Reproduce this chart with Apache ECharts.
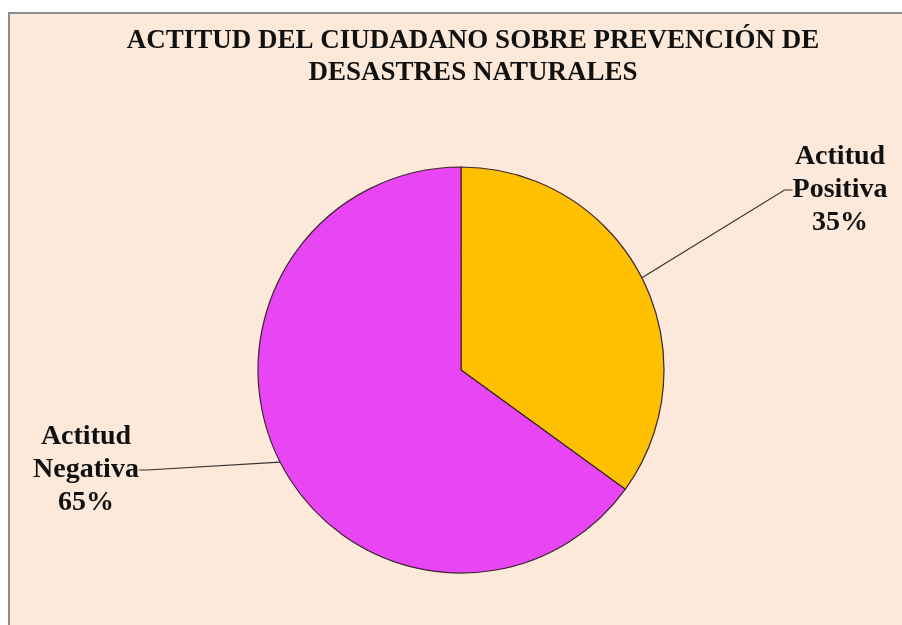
<!DOCTYPE html>
<html>
<head>
<meta charset="utf-8">
<script src="https://cdn.jsdelivr.net/npm/echarts@6/dist/echarts.min.js"></script>
<style>
html,body{margin:0;padding:0;background:#ffffff;}
#frame{position:absolute;left:8px;top:12px;width:894px;height:613px;background:#FDE9D9;border-left:2px solid #8c8c8c;border-top:2px solid #8c8c8c;box-sizing:border-box;}
#chart{position:absolute;left:0;top:0;width:902px;height:625px;}
</style>
</head>
<body>
<div id="frame"></div>
<div id="chart"></div>
<script>
const titleText = 'ACTITUD DEL CIUDADANO SOBRE PREVENCIÓN DE\nDESASTRES NATURALES';
const categories = ['Actitud Positiva', 'Actitud Negativa'];
const percentages = [35, 65];
const colors = ['#FFC000', '#E845F4'];

const labelPos = [
  { x: 840, y: 190 },
  { x: 86, y: 470 }
];

const chart = echarts.init(document.getElementById('chart'), null, { renderer: 'canvas' });
chart.setOption({
  backgroundColor: 'transparent',
  animation: false,
  title: {
    text: titleText,
    left: 468,
    top: 20,
    textAlign: 'center',
    textStyle: {
      fontFamily: 'Liberation Serif',
      fontWeight: 'bold',
      fontSize: 27,
      lineHeight: 32,
      color: '#111111'
    }
  },
  series: [{
    type: 'pie',
    center: [461, 370],
    radius: 203,
    startAngle: 90,
    clockwise: true,
    itemStyle: { borderColor: '#3b2630', borderWidth: 1.2 },
    label: {
      show: true,
      position: 'outside',
      fontFamily: 'Liberation Serif',
      fontWeight: 'bold',
      fontSize: 28,
      lineHeight: 33,
      color: '#111111',
      align: 'center',
      formatter: function (p) {
        return p.name.replace(' ', '\n') + '\n' + p.value + '%';
      }
    },
    labelLine: {
      show: true,
      length: 20,
      length2: 8,
      lineStyle: { color: '#333333', width: 1.2 }
    },
    labelLayout: function (params) {
      const pos = labelPos[params.dataIndex];
      return { x: pos.x, y: pos.y, align: 'center', verticalAlign: 'middle' };
    },
    data: categories.map(function (c, i) {
      return { name: c, value: percentages[i], itemStyle: { color: colors[i] } };
    })
  }]
});
</script>
</body>
</html>
